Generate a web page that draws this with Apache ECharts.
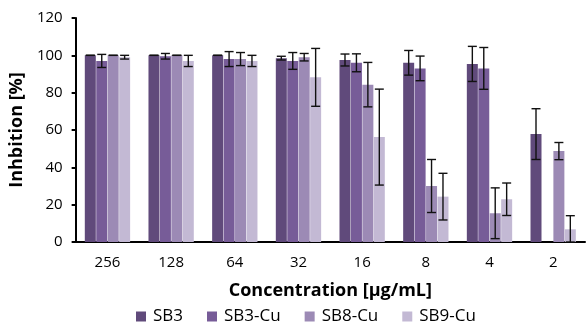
<!DOCTYPE html>
<html>
<head>
<meta charset="utf-8">
<script src="https://cdn.jsdelivr.net/npm/echarts@6/dist/echarts.min.js"></script>
<style>
  html, body { margin: 0; padding: 0; background: #fff; }
  #chart { width: 587px; height: 328px; }
</style>
</head>
<body>
<div id="chart"></div>
<script>
const categories = ['256', '128', '64', '32', '16', '8', '4', '2']
const seriesNames = ['SB3', 'SB3-Cu', 'SB8-Cu', 'SB9-Cu']
const colors = ['#604a7b', '#775c98', '#9c8ab5', '#c3b9d4']

// mean values
const sb3 = [100, 100, 100, 98.5, 97.5, 96, 95.4, 57.8]
const sb3cu = [97, 99.5, 98, 97, 96, 93, 93, 0]
const sb8cu = [100, 100, 98, 99, 84.3, 30, 15.4, 48.7]
const sb9cu = [99, 97, 97, 88.2, 56.2, 24.3, 22.9, 6.8]

// standard deviations (null = no error bar drawn)
const sb3Err = [0, 0, 0, 1, 3.2, 6.6, 9.4, 13.6]
const sb3cuErr = [3.5, 1.5, 4, 4.5, 4.8, 6.6, 11.2, null]
const sb8cuErr = [0, 0, 3.5, 2, 11.9, 14.2, 13.6, 4.6]
const sb9cuErr = [1, 3, 3, 15.5, 25.7, 12.5, 8.7, 7.3]

const values = [sb3, sb3cu, sb8cu, sb9cu]
const errors = [sb3Err, sb3cuErr, sb8cuErr, sb9cuErr]

const font = '"Open Sans", sans-serif'
const barWidth = 11
const barGap = 0.04
const step = barWidth * (1 + barGap)

const chart = echarts.init(document.getElementById('chart'))

const barSeries = seriesNames.map((name, i) => ({
    name: name,
    type: 'bar',
    data: values[i],
    barWidth: barWidth,
    barGap: (barGap * 100) + '%',
    itemStyle: { color: colors[i] },
    emphasis: { disabled: true }
}))

const errSeries = seriesNames.map((name, i) => ({
    type: 'custom',
    name: name + ' err',
    silent: true,
    z: 5,
    data: values[i].map((v, j) => errors[i][j] === null ? null :
        [j, v - errors[i][j], v + errors[i][j]]).filter(d => d !== null),
    encode: { x: 0, y: [1, 2] },
    renderItem: function (params, api) {
        const cat = api.value(0)
        const lo = api.coord([cat, Math.max(api.value(1), 0)])
        const hi = api.coord([cat, api.value(2)])
        const x = lo[0] + (i - 1.5) * step
        const cap = 4.5
        const st = { stroke: '#111', lineWidth: 1.4 }
        return {
            type: 'group',
            children: [
                { type: 'line', shape: { x1: x, y1: lo[1], x2: x, y2: hi[1] }, style: st },
                { type: 'line', shape: { x1: x - cap, y1: lo[1], x2: x + cap, y2: lo[1] }, style: st },
                { type: 'line', shape: { x1: x - cap, y1: hi[1], x2: x + cap, y2: hi[1] }, style: st }
            ]
        }
    }
}))

chart.setOption({
    animation: false,
    textStyle: { fontFamily: font },
    grid: { left: 72, right: 2, top: 18, bottom: 86 },
    legend: {
        data: seriesNames,
        top: 308,
        left: 136,
        padding: 0,
        itemWidth: 10,
        itemHeight: 10,
        itemGap: 24,
        icon: 'rect',
        textStyle: { fontSize: 17, color: '#000', fontFamily: font, padding: [0, 0, 0, 2] }
    },
    xAxis: {
        type: 'category',
        data: categories,
        name: 'Concentration [μg/mL]',
        nameLocation: 'middle',
        nameGap: 40,
        nameTextStyle: { fontSize: 18, fontWeight: 'bold', color: '#000', fontFamily: font },
        axisLine: { lineStyle: { color: '#000', width: 2 } },
        axisTick: { length: 5, lineStyle: { color: '#000', width: 2 } },
        axisLabel: { fontSize: 15, color: '#000', margin: 13, fontFamily: font }
    },
    yAxis: {
        type: 'value',
        min: 0,
        max: 120,
        interval: 20,
        name: 'Inhbition [%]',
        nameLocation: 'middle',
        nameGap: 40,
        nameTextStyle: { fontSize: 18, fontWeight: 'bold', color: '#000', fontFamily: font },
        axisLine: { show: true, lineStyle: { color: '#000', width: 2 } },
        axisTick: { show: true, length: 4, lineStyle: { color: '#000', width: 2 } },
        axisLabel: { fontSize: 15, color: '#000', margin: 13, fontFamily: font },
        splitLine: { show: false }
    },
    series: barSeries.concat(errSeries)
})
</script>
</body>
</html>
